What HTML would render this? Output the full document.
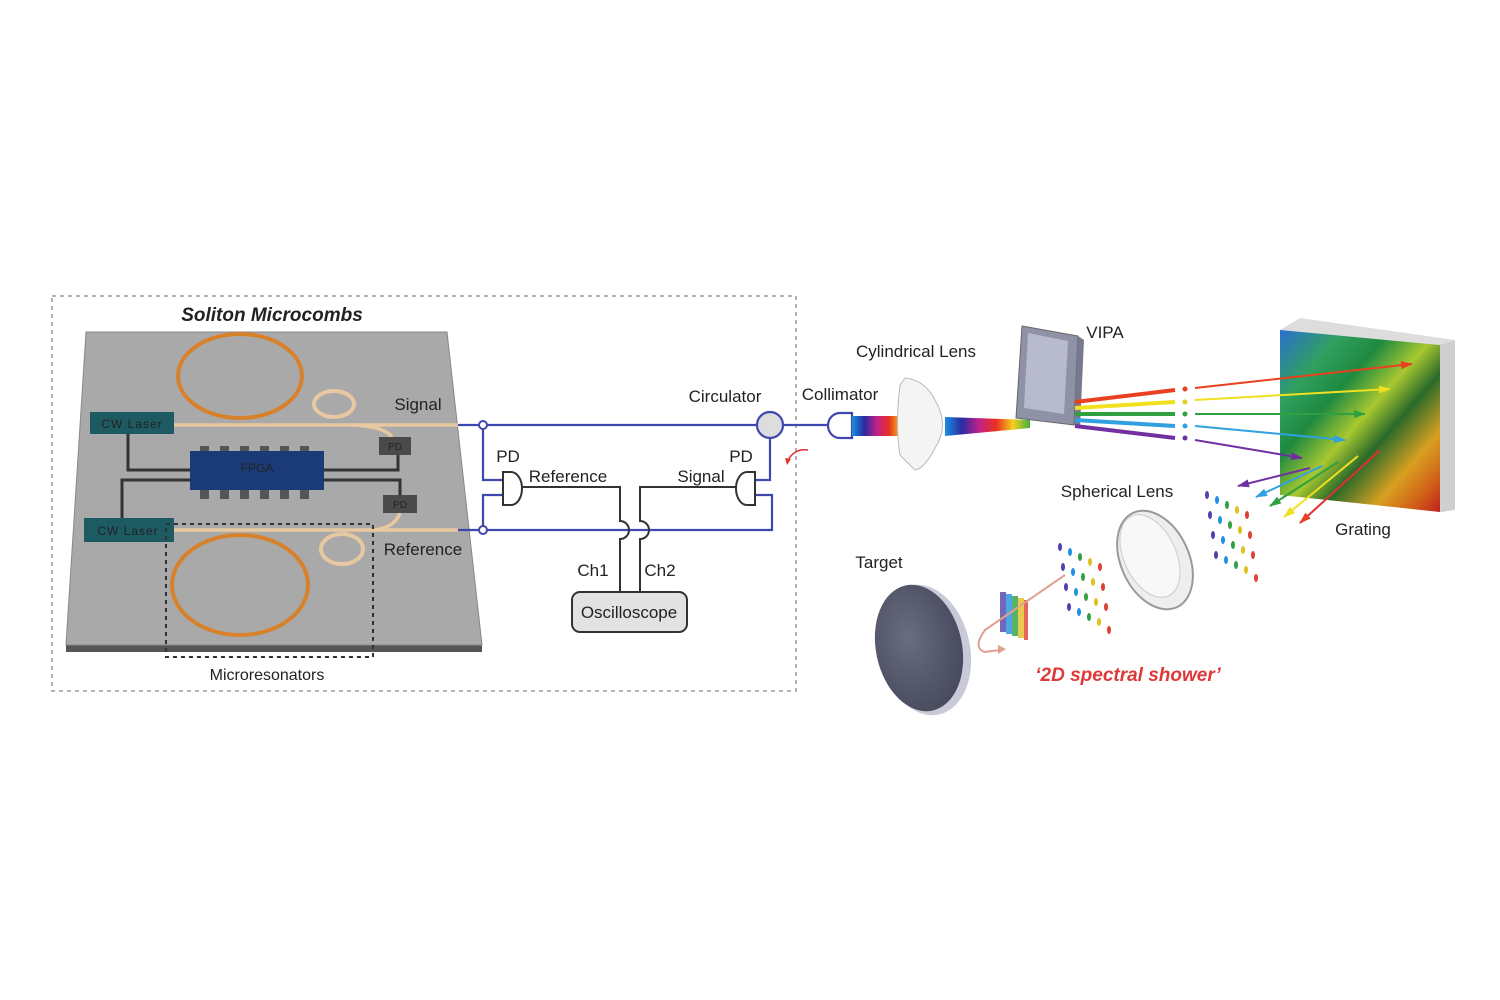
<!DOCTYPE html>
<html><head><meta charset="utf-8"><style>
body{margin:0;background:#fff}
svg{display:block}
text{font-family:"Liberation Sans",sans-serif;fill:#222}
</style></head><body>
<svg width="1500" height="1000" viewBox="0 0 1500 1000" xmlns="http://www.w3.org/2000/svg">
<defs>
<linearGradient id="rb" x1="0" x2="1" y1="0" y2="0">
<stop offset="0" stop-color="#1a8fe0"/><stop offset=".2" stop-color="#2b2aa0"/><stop offset=".4" stop-color="#c0208a"/><stop offset=".6" stop-color="#e83020"/><stop offset=".8" stop-color="#f5d020"/><stop offset="1" stop-color="#40b040"/>
</linearGradient>
<linearGradient id="gr" x1="0" y1="0" x2="1" y2="1">
<stop offset="0" stop-color="#2a6fd0"/><stop offset=".2" stop-color="#30a060"/><stop offset=".35" stop-color="#1e8a40"/><stop offset=".5" stop-color="#a8c830"/><stop offset=".62" stop-color="#2a6a2a"/><stop offset=".78" stop-color="#d8a020"/><stop offset=".9" stop-color="#d06018"/><stop offset="1" stop-color="#c02020"/>
</linearGradient>
<radialGradient id="tg" cx=".4" cy=".4" r=".7"><stop offset="0" stop-color="#6a6d80"/><stop offset="1" stop-color="#44475a"/></radialGradient>
<marker id="mr" markerWidth="12" markerHeight="8" refX="11" refY="4" orient="auto" markerUnits="userSpaceOnUse"><path d="M0,0 L12,4 L0,8Z" fill="#e84020"/></marker>
<marker id="my" markerWidth="12" markerHeight="8" refX="11" refY="4" orient="auto" markerUnits="userSpaceOnUse"><path d="M0,0 L12,4 L0,8Z" fill="#f0e020"/></marker>
<marker id="mg" markerWidth="12" markerHeight="8" refX="11" refY="4" orient="auto" markerUnits="userSpaceOnUse"><path d="M0,0 L12,4 L0,8Z" fill="#30a040"/></marker>
<marker id="mb" markerWidth="12" markerHeight="8" refX="11" refY="4" orient="auto" markerUnits="userSpaceOnUse"><path d="M0,0 L12,4 L0,8Z" fill="#30a0e0"/></marker>
<marker id="mp" markerWidth="12" markerHeight="8" refX="11" refY="4" orient="auto" markerUnits="userSpaceOnUse"><path d="M0,0 L12,4 L0,8Z" fill="#7030a0"/></marker>
</defs>

<rect x="52" y="296" width="744" height="395" fill="none" stroke="#999" stroke-width="1.5" stroke-dasharray="4,4"/>
<text x="272" y="321" font-size="19" font-weight="bold" font-style="italic" text-anchor="middle" fill="#111">Soliton Microcombs</text>

<polygon points="66,645 482,645 482,652 66,652" fill="#555"/>
<polygon points="86,332 447,332 482,645 66,645" fill="#a9a9a9" stroke="#888"/>
<ellipse cx="240" cy="376" rx="62" ry="42" fill="none" stroke="#d9812a" stroke-width="4"/>
<ellipse cx="334" cy="404" rx="20" ry="13" fill="none" stroke="#e8c8a0" stroke-width="4"/>
<ellipse cx="240" cy="585" rx="68" ry="50" fill="none" stroke="#d9812a" stroke-width="4"/>
<ellipse cx="342" cy="549" rx="21" ry="15" fill="none" stroke="#e8c8a0" stroke-width="4"/>
<g stroke="#333" stroke-width="3" fill="none">
<path d="M128,434 V470 H190"/><path d="M324,470 H398 V455"/>
<path d="M122,518 V480 H190"/><path d="M324,480 H400 V495"/>
</g>
<g stroke="#e8c8a0" stroke-width="3.5" fill="none">
<path d="M174,425 H458"/><path d="M355,425 Q385,427 392,437"/>
<path d="M174,530 H458"/><path d="M375,530 Q395,527 400,513"/>
</g>
<rect x="90" y="412" width="84" height="22" fill="#1e5a62"/>
<text x="132" y="428" font-size="12" fill="#bfe0e0" text-anchor="middle" letter-spacing="1">CW Laser</text>
<rect x="84" y="518" width="90" height="24" fill="#1e5a62"/>
<text x="128" y="535" font-size="12" fill="#bfe0e0" text-anchor="middle" letter-spacing="1">CW Laser</text>
<g fill="#555"><rect x="200" y="446" width="9" height="8"/><rect x="220" y="446" width="9" height="8"/><rect x="240" y="446" width="9" height="8"/><rect x="260" y="446" width="9" height="8"/><rect x="280" y="446" width="9" height="8"/><rect x="300" y="446" width="9" height="8"/>
<rect x="200" y="490" width="9" height="9"/><rect x="220" y="490" width="9" height="9"/><rect x="240" y="490" width="9" height="9"/><rect x="260" y="490" width="9" height="9"/><rect x="280" y="490" width="9" height="9"/><rect x="300" y="490" width="9" height="9"/></g>
<rect x="190" y="451" width="134" height="39" fill="#1b3a78"/>
<text x="257" y="472" font-size="12" fill="#a0b0d8" text-anchor="middle">FPGA</text>
<rect x="379" y="437" width="32" height="18" fill="#4a4a4a"/><text x="395" y="450" font-size="10" fill="#ccc" text-anchor="middle">PD</text>
<rect x="383" y="495" width="34" height="18" fill="#4a4a4a"/><text x="400" y="508" font-size="10" fill="#ccc" text-anchor="middle">PD</text>
<rect x="166" y="524" width="207" height="133" fill="none" stroke="#333" stroke-width="2" stroke-dasharray="4,4"/>
<text x="418" y="410" font-size="17" text-anchor="middle">Signal</text>
<text x="423" y="555" font-size="17" text-anchor="middle">Reference</text>
<text x="267" y="680" font-size="16" text-anchor="middle">Microresonators</text>

<g stroke="#4048b0" stroke-width="2.2" fill="none">
<path d="M458,425 H757"/><path d="M783,425 H828"/>
<path d="M458,530 H772 V495 H755"/>
<path d="M770,438 V480 H755"/>
<path d="M483,425 V480 H503"/><path d="M503,495 H483 V530"/>
<path d="M852,413 H840 A12,12.5 0 0 0 840,438 H852 Z"/>
</g>
<circle cx="483" cy="425" r="4" fill="#fff" stroke="#4048b0" stroke-width="2"/>
<circle cx="483" cy="530" r="4" fill="#fff" stroke="#4048b0" stroke-width="2"/>
<circle cx="770" cy="425" r="13" fill="#ddd" stroke="#4048b0" stroke-width="2.2"/>
<g stroke="#333" stroke-width="2" fill="none">
<path d="M503,472 H511 A11,16.5 0 0 1 511,505 H503 Z" fill="#fff"/>
<path d="M755,472 H747 A11,16.5 0 0 0 747,505 H755 Z" fill="#fff"/>
<path d="M522,487 H620 V521 A9,9 0 0 1 620,539 V592"/>
<path d="M737,487 H640 V521 A9,9 0 0 1 640,539 V592"/>
<rect x="572" y="592" width="115" height="40" rx="8" fill="#e2e2e2"/>
</g>
<path d="M808,450 Q795,448 788,460" stroke="#e03030" stroke-width="1.5" fill="none"/>
<path d="M785,458 L791,459 L787,465Z" fill="#e03030"/>
<text x="629" y="618" font-size="17" text-anchor="middle">Oscilloscope</text>
<text x="593" y="576" font-size="17" text-anchor="middle">Ch1</text>
<text x="660" y="576" font-size="17" text-anchor="middle">Ch2</text>
<text x="508" y="462" font-size="17" text-anchor="middle">PD</text>
<text x="741" y="462" font-size="17" text-anchor="middle">PD</text>
<text x="568" y="482" font-size="17" text-anchor="middle">Reference</text>
<text x="701" y="482" font-size="17" text-anchor="middle">Signal</text>
<text x="725" y="402" font-size="17" text-anchor="middle">Circulator</text>
<text x="840" y="400" font-size="17" text-anchor="middle">Collimator</text>

<rect x="852" y="416" width="62" height="20" fill="url(#rb)"/>
<path d="M905,378 Q925,380 935,400 Q950,425 935,448 Q925,468 915,470 L900,455 Q895,425 900,385Z" fill="#f4f4f4" stroke="#bbb"/>
<polygon points="945,417 1030,420 1030,428 945,436" fill="url(#rb)"/>
<polygon points="1022,326 1078,336 1074,425 1016,418" fill="#8f92a6" stroke="#666"/>
<polygon points="1028,333 1068,341 1064,414 1024,408" fill="#b8bbcc"/>
<polygon points="1078,336 1084,340 1080,428 1074,425" fill="#777a8e"/>
<g stroke-width="4">
<line x1="1075" y1="402" x2="1175" y2="390" stroke="#e84020"/>
<line x1="1075" y1="408" x2="1175" y2="402" stroke="#f0e020"/>
<line x1="1075" y1="414" x2="1175" y2="414" stroke="#30a040"/>
<line x1="1075" y1="420" x2="1175" y2="426" stroke="#30a0e0"/>
<line x1="1075" y1="426" x2="1175" y2="438" stroke="#7030a0"/>
</g>
<circle cx="1185" cy="389" r="2.5" fill="#e84020"/><circle cx="1185" cy="402" r="2.5" fill="#e0d020"/><circle cx="1185" cy="414" r="2.5" fill="#30a040"/><circle cx="1185" cy="426" r="2.5" fill="#30a0e0"/><circle cx="1185" cy="438" r="2.5" fill="#7030a0"/>
<polygon points="1280,330 1300,318 1455,340 1445,512 1280,495" fill="#ddd"/>
<polygon points="1280,330 1440,345 1440,512 1280,495" fill="url(#gr)"/>
<polygon points="1440,345 1455,340 1455,510 1440,512" fill="#cfcfcf"/>
<g stroke-width="2">
<line x1="1195" y1="388" x2="1412" y2="364" stroke="#e84020" marker-end="url(#mr)"/>
<line x1="1195" y1="400" x2="1390" y2="389" stroke="#f0e020" marker-end="url(#my)"/>
<line x1="1195" y1="414" x2="1365" y2="414" stroke="#30a040" marker-end="url(#mg)"/>
<line x1="1195" y1="426" x2="1345" y2="440" stroke="#30a0e0" marker-end="url(#mb)"/>
<line x1="1195" y1="440" x2="1302" y2="458" stroke="#7030a0" marker-end="url(#mp)"/>
<line x1="1310" y1="468" x2="1238" y2="486" stroke="#7030a0" marker-end="url(#mp)"/>
<line x1="1322" y1="466" x2="1256" y2="497" stroke="#30a0e0" marker-end="url(#mb)"/>
<line x1="1338" y1="462" x2="1270" y2="506" stroke="#30a040" marker-end="url(#mg)"/>
<line x1="1358" y1="456" x2="1284" y2="517" stroke="#f0e020" marker-end="url(#my)"/>
<line x1="1380" y1="450" x2="1300" y2="523" stroke="#e03030" marker-end="url(#mr)"/>
</g>
<ellipse cx="1155" cy="560" rx="34" ry="52" transform="rotate(-25 1155 560)" fill="#eee" stroke="#999" stroke-width="2"/>
<ellipse cx="1150" cy="556" rx="26" ry="44" transform="rotate(-25 1150 556)" fill="#f8f8f8" stroke="#ccc"/>
<g>
<g fill="#5040b0"><ellipse cx="1207" cy="495" rx="2" ry="4"/><ellipse cx="1210" cy="515" rx="2" ry="4"/><ellipse cx="1213" cy="535" rx="2" ry="4"/><ellipse cx="1216" cy="555" rx="2" ry="4"/></g>
<g fill="#2090e0"><ellipse cx="1217" cy="500" rx="2" ry="4"/><ellipse cx="1220" cy="520" rx="2" ry="4"/><ellipse cx="1223" cy="540" rx="2" ry="4"/><ellipse cx="1226" cy="560" rx="2" ry="4"/></g>
<g fill="#30a040"><ellipse cx="1227" cy="505" rx="2" ry="4"/><ellipse cx="1230" cy="525" rx="2" ry="4"/><ellipse cx="1233" cy="545" rx="2" ry="4"/><ellipse cx="1236" cy="565" rx="2" ry="4"/></g>
<g fill="#e0c020"><ellipse cx="1237" cy="510" rx="2" ry="4"/><ellipse cx="1240" cy="530" rx="2" ry="4"/><ellipse cx="1243" cy="550" rx="2" ry="4"/><ellipse cx="1246" cy="570" rx="2" ry="4"/></g>
<g fill="#e04030"><ellipse cx="1247" cy="515" rx="2" ry="4"/><ellipse cx="1250" cy="535" rx="2" ry="4"/><ellipse cx="1253" cy="555" rx="2" ry="4"/><ellipse cx="1256" cy="578" rx="2" ry="4"/></g>
</g>
<g>
<g fill="#5040b0"><ellipse cx="1060" cy="547" rx="2" ry="4"/><ellipse cx="1063" cy="567" rx="2" ry="4"/><ellipse cx="1066" cy="587" rx="2" ry="4"/><ellipse cx="1069" cy="607" rx="2" ry="4"/></g>
<g fill="#2090e0"><ellipse cx="1070" cy="552" rx="2" ry="4"/><ellipse cx="1073" cy="572" rx="2" ry="4"/><ellipse cx="1076" cy="592" rx="2" ry="4"/><ellipse cx="1079" cy="612" rx="2" ry="4"/></g>
<g fill="#30a040"><ellipse cx="1080" cy="557" rx="2" ry="4"/><ellipse cx="1083" cy="577" rx="2" ry="4"/><ellipse cx="1086" cy="597" rx="2" ry="4"/><ellipse cx="1089" cy="617" rx="2" ry="4"/></g>
<g fill="#e0c020"><ellipse cx="1090" cy="562" rx="2" ry="4"/><ellipse cx="1093" cy="582" rx="2" ry="4"/><ellipse cx="1096" cy="602" rx="2" ry="4"/><ellipse cx="1099" cy="622" rx="2" ry="4"/></g>
<g fill="#e04030"><ellipse cx="1100" cy="567" rx="2" ry="4"/><ellipse cx="1103" cy="587" rx="2" ry="4"/><ellipse cx="1106" cy="607" rx="2" ry="4"/><ellipse cx="1109" cy="630" rx="2" ry="4"/></g>
</g>
<g opacity=".8">
<rect x="1000" y="592" width="6" height="40" fill="#5040b0"/><rect x="1006" y="594" width="6" height="40" fill="#2090e0"/><rect x="1012" y="596" width="6" height="40" fill="#30a040"/><rect x="1018" y="598" width="6" height="40" fill="#e0c020"/><rect x="1024" y="600" width="4" height="40" fill="#e04030"/>
</g>
<path d="M1065,575 L985,630 Q972,648 985,652 L1000,650" stroke="#e0a090" stroke-width="2" fill="none"/>
<path d="M998,645 L1006,649 L998,654Z" fill="#e0a090"/>
<ellipse cx="925" cy="650" rx="45" ry="66" transform="rotate(-12 925 650)" fill="#c8cad8"/>
<ellipse cx="919" cy="648" rx="43" ry="64" transform="rotate(-12 919 648)" fill="url(#tg)"/>
<text x="1105" y="338" font-size="17" text-anchor="middle">VIPA</text>
<text x="916" y="357" font-size="17" text-anchor="middle">Cylindrical Lens</text>
<text x="1117" y="497" font-size="17" text-anchor="middle">Spherical Lens</text>
<text x="1363" y="535" font-size="17" text-anchor="middle">Grating</text>
<text x="879" y="568" font-size="17" text-anchor="middle">Target</text>
<text x="1128" y="681" font-size="19" font-weight="bold" font-style="italic" text-anchor="middle" style="fill:#e03838">‘2D spectral shower’</text>
</svg>
</body></html>
